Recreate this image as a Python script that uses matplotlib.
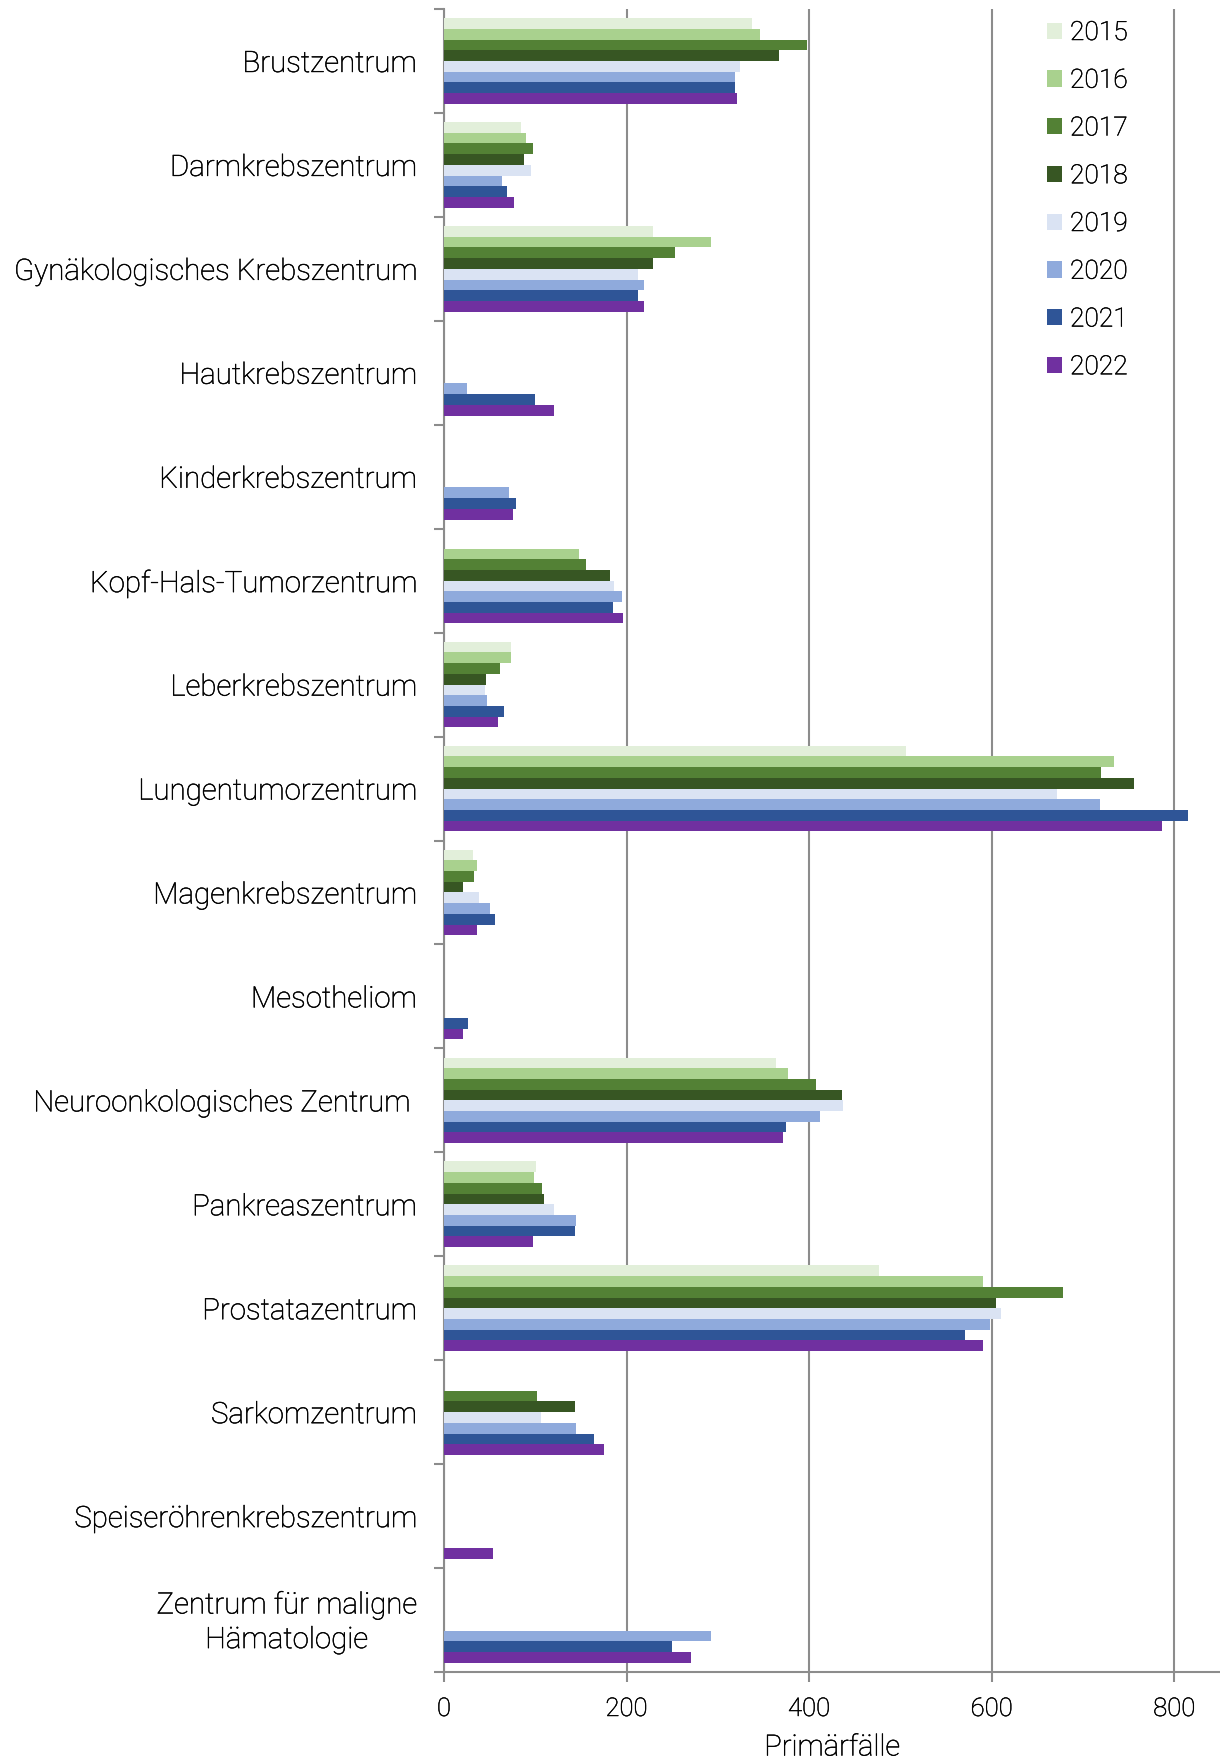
import numpy as np
import matplotlib
matplotlib.use('Agg')
import matplotlib.pyplot as plt
import matplotlib.patheffects as pe
import matplotlib.transforms as mtrans
from matplotlib.patches import Patch

plt.rcParams['font.family'] = ['Roboto', 'DejaVu Sans']
plt.rcParams['font.weight'] = 'light'
plt.rcParams['axes.labelweight'] = 'light'

# Daten (Primärfälle je Zentrum und Jahr)
zentren = ['Brustzentrum', 'Darmkrebszentrum', 'Gynäkologisches Krebszentrum',
           'Hautkrebszentrum', 'Kinderkrebszentrum', 'Kopf-Hals-Tumorzentrum',
           'Leberkrebszentrum', 'Lungentumorzentrum', 'Magenkrebszentrum',
           'Mesotheliom', 'Neuroonkologisches Zentrum ', 'Pankreaszentrum',
           'Prostatazentrum', 'Sarkomzentrum', 'Speiseröhrenkrebszentrum',
           'Zentrum für maligne\nHämatologie']
jahre = ['2015', '2016', '2017', '2018', '2019', '2020', '2021', '2022']

w2015 = [337, 84, 229, 0, 0, 0, 73, 506, 32, 0, 364, 101, 476, 0, 0, 0]
w2016 = [346, 90, 293, 0, 0, 148, 73, 734, 36, 0, 377, 99, 590, 0, 0, 0]
w2017 = [398, 97, 253, 0, 0, 155, 61, 720, 33, 0, 408, 107, 678, 102, 0, 0]
w2018 = [367, 88, 229, 0, 0, 182, 46, 756, 21, 0, 436, 110, 605, 143, 0, 0]
w2019 = [324, 95, 213, 0, 0, 186, 45, 671, 38, 0, 437, 120, 610, 106, 0, 0]
w2020 = [319, 63, 219, 25, 71, 195, 47, 719, 50, 0, 412, 145, 598, 145, 0, 293]
w2021 = [319, 69, 213, 100, 79, 185, 66, 815, 56, 26, 375, 143, 571, 164, 0, 250]
w2022 = [321, 77, 219, 121, 76, 196, 59, 786, 36, 21, 371, 97, 590, 175, 54, 271]
werte = [w2015, w2016, w2017, w2018, w2019, w2020, w2021, w2022]

farben = ['#E2EFDA', '#A9D18E', '#538135', '#375623',
          '#DAE3F3', '#8FAADC', '#2F5597', '#7030A0']

fig = plt.figure(figsize=(12.2, 17.63), dpi=100)
ax = fig.add_axes([444 / 1220, 1 - 1672 / 1763, 1 - 444 / 1220, (1672 - 9) / 1763])

y = np.arange(len(zentren))
h = 0.103
for j, (jahr, w) in enumerate(zip(jahre, werte)):
    ax.barh(y + (j - 3.5) * h, w, height=h, color=farben[j], label=jahr, zorder=3)

ax.set_ylim(len(zentren) - 0.5, -0.5)
ax.set_xlim(0, 850)

grau = '#8C8C8C'
ax.set_xticks([0, 200, 400, 600, 800])
ax.xaxis.grid(True, color=grau, linewidth=1.5, zorder=0)
ax.set_axisbelow(True)

# etwas kräftigere Schrift
dick = [pe.withStroke(linewidth=0.35, foreground='black')]

# Kategorie-Beschriftungen mittig, Striche an den Grenzen
ax.set_yticks(y)
ax.set_yticklabels(zentren, fontsize=21.2)
ax.tick_params(axis='y', which='major', length=0, pad=20)
ax.set_yticks(np.arange(-0.5, len(zentren) + 0.5, 1), minor=True)
ax.tick_params(axis='y', which='minor', length=7, width=1.5, color=grau)
ax.tick_params(axis='x', which='major', labelsize=18.5, length=7, width=1.5,
               color=grau, pad=11)

for lab in ax.get_yticklabels():
    lab.set_multialignment('center')
    lab.set_linespacing(1.3)
    lab.set_path_effects(dick)
letztes = ax.get_yticklabels()[-1]
letztes.set_transform(letztes.get_transform() +
                      mtrans.ScaledTranslation(0, 4 / 100, fig.dpi_scale_trans))
for lab in ax.get_xticklabels():
    lab.set_path_effects(dick)

for s in ['top', 'right']:
    ax.spines[s].set_visible(False)
for s in ['left', 'bottom']:
    ax.spines[s].set_color(grau)
    ax.spines[s].set_linewidth(1.5)

xl = ax.set_xlabel('Primärfälle', fontsize=21, labelpad=9)
xl.set_path_effects(dick)

handles = [Patch(facecolor=farben[j], label=jahre[j]) for j in range(len(jahre))]
leg = ax.legend(handles=handles, loc='upper left', bbox_to_anchor=(1047 / 1220, 1 - 21 / 1763),
                bbox_transform=fig.transFigure, frameon=False, fontsize=19,
                handlelength=0.57, handleheight=0.57, handletextpad=0.3,
                labelspacing=0.9, borderpad=0, borderaxespad=0)
for t in leg.get_texts():
    t.set_path_effects(dick)

fig.savefig('out.png', dpi=100)
